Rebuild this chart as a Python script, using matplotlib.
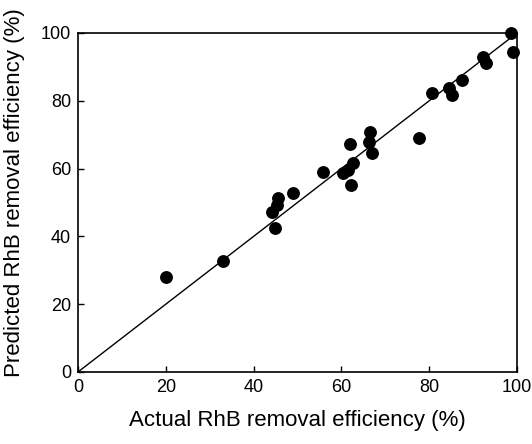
import matplotlib
matplotlib.use("Agg")
import matplotlib.pyplot as plt

plt.rcParams['font.family'] = ['Liberation Sans', 'DejaVu Sans']

actual = [98.6, 99.0, 92.3, 92.9, 87.4, 84.4, 85.1, 80.6, 77.7,
          66.5, 66.4, 66.9, 62.0, 62.7, 61.5, 60.4, 62.3, 55.7,
          49.0, 45.6, 45.3, 44.1, 44.9, 33.1, 20.0]
predicted = [99.9, 94.3, 92.8, 91.2, 86.1, 83.7, 81.7, 82.2, 68.9,
             70.9, 67.9, 64.5, 67.3, 61.6, 59.6, 58.6, 55.2, 58.9,
             52.7, 51.2, 49.3, 47.3, 42.4, 32.8, 27.9]
ticks = [0, 20, 40, 60, 80, 100]
diag = [0, 100]

fig = plt.figure(figsize=(5.32, 4.44), dpi=100)
ax = fig.add_axes([0.1466, 0.1622, 0.8252, 0.7635])
ax.plot(diag, diag, color='black', linewidth=1.0)
ax.scatter(actual, predicted, s=68, color='black', zorder=3, clip_on=False)
ax.set_xlim(0, 100)
ax.set_ylim(0, 100)
ax.set_xticks(ticks)
ax.set_yticks(ticks)
ax.tick_params(direction='in', length=4, labelsize=13, width=1, pad=5)
for sp in ax.spines.values():
    sp.set_linewidth(1.2)
ax.set_xlabel('Actual RhB removal efficiency (%)', fontsize=16, labelpad=10)
ax.set_ylabel('Predicted RhB removal efficiency (%)', fontsize=16)
ax.yaxis.set_label_coords(-0.12, 0.53)
fig.savefig('out.png', dpi=100)
